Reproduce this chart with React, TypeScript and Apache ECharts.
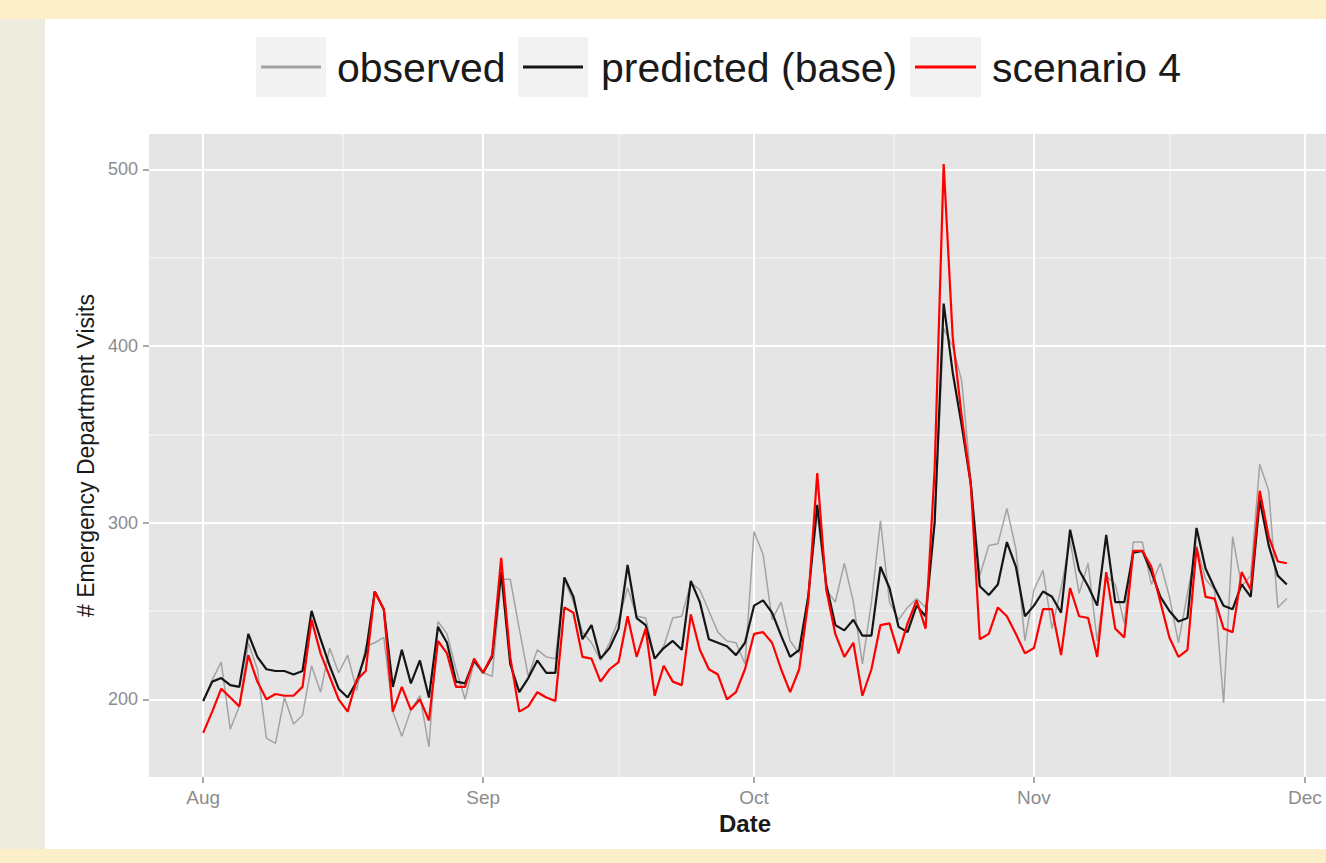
import React, { useEffect, useRef } from 'react';
import * as echarts from 'echarts';

// Day index 0 = Aug 1 (daily data through Nov 29)
const monthLabels = ['Aug', 'Sep', 'Oct', 'Nov', 'Dec'];
const monthStartDays = [0, 31, 61, 92, 122];
const midMonthDays = [15.5, 46, 76.5, 107];
const yTickValues = [200, 300, 400, 500];
const yMinorValues = [250, 350, 450];
const seriesNames = ['observed', 'predicted (base)', 'scenario 4'];

const observed = [
  199, 211, 221, 183, 196, 232, 217, 178, 175, 201,
  186, 191, 219, 204, 229, 215, 225, 205, 230, 232,
  235, 193, 179, 194, 202, 173, 244, 237, 217, 200,
  221, 215, 213, 268, 268, 240, 213, 228, 224, 223,
  268, 255, 238, 232, 222, 232, 245, 263, 247, 246,
  223, 230, 246, 247, 266, 262, 250, 238, 233, 232,
  220, 295, 282, 245, 255, 233, 226, 260, 305, 262,
  255, 277, 255, 220, 255, 301, 255, 245, 252, 257,
  252, 300, 410, 400, 380, 325, 270, 287, 288, 308,
  285, 233, 262, 273, 240, 263, 290, 260, 277, 233,
  270, 265, 243, 289, 289, 265, 277, 258, 232, 260,
  287, 268, 262, 198, 292, 264, 270, 333, 318, 252,
  257,
];

const predicted = [
  199, 210, 212, 208, 207, 237, 224, 217, 216, 216,
  214, 216, 250, 234, 219, 206, 201, 210, 226, 261,
  251, 207, 228, 209, 222, 201, 241, 232, 210, 209,
  222, 215, 224, 272, 220, 204, 212, 222, 215, 215,
  269, 258, 234, 242, 223, 229, 240, 276, 246, 242,
  223, 229, 233, 228, 267, 255, 234, 232, 230, 225,
  232, 253, 256, 249, 236, 224, 228, 258, 310, 265,
  242, 239, 245, 236, 236, 275, 263, 241, 238, 253,
  247, 300, 424, 385, 355, 322, 264, 259, 265, 289,
  275, 247, 253, 261, 258, 249, 296, 273, 264, 253,
  293, 255, 255, 283, 284, 272, 258, 250, 244, 246,
  297, 274, 263, 253, 251, 265, 258, 313, 287, 270,
  265,
];

const scenario4 = [
  181, 193, 206, 201, 196, 225, 210, 200, 203, 202,
  202, 207, 245, 226, 213, 200, 193, 211, 216, 261,
  251, 193, 207, 194, 200, 188, 233, 226, 207, 207,
  223, 215, 225, 280, 224, 193, 196, 204, 201, 199,
  252, 249, 224, 223, 210, 217, 221, 247, 224, 240,
  202, 219, 210, 208, 248, 228, 217, 214, 200, 204,
  217, 237, 238, 232, 217, 204, 217, 255, 328, 262,
  237, 224, 232, 202, 217, 242, 243, 226, 243, 256,
  240, 330, 503, 405, 360, 322, 234, 237, 252, 247,
  237, 226, 229, 251, 251, 225, 263, 247, 246, 224,
  272, 240, 235, 284, 284, 275, 255, 235, 224, 228,
  286, 258, 257, 240, 238, 272, 262, 318, 292, 278,
  277,
];

const FONT = '"Liberation Sans", Arial, Helvetica, sans-serif';
const COLORS = ['#a3a3a3', '#151515', '#ff0000'];

const toPairs = (arr: number[]) => arr.map((v, i) => [i, v]);

function buildOption(): any {
  const seriesData = [observed, predicted, scenario4];
  const widths = [1.5, 2.2, 2.2];
  const legendBoxes = [
    { x: 256, w: 70, tx: 337 },
    { x: 518, w: 70, tx: 601 },
    { x: 910, w: 71, tx: 992 },
  ];
  const graphic: any[] = [];
  legendBoxes.forEach((b, i) => {
    graphic.push({
      type: 'rect',
      shape: { x: b.x, y: 37, width: b.w, height: 60 },
      style: { fill: '#f2f2f2' },
      silent: true,
    });
    graphic.push({
      type: 'line',
      shape: { x1: b.x + 5, y1: 67, x2: b.x + b.w - 5, y2: 67 },
      style: { stroke: COLORS[i], lineWidth: 3 },
      silent: true,
    });
    graphic.push({
      type: 'text',
      x: b.tx,
      y: 68,
      style: {
        text: seriesNames[i],
        fontSize: 41,
        fontFamily: FONT,
        fill: '#1a1a1a',
        align: 'left',
        verticalAlign: 'middle',
      },
      silent: true,
    });
  });

  const tickStyle = { color: '#8c8c8c', width: 1.5 };

  return {
    animation: false,
    grid: {
      left: 149,
      top: 134,
      width: 1192,
      height: 643,
      show: true,
      backgroundColor: '#e5e5e5',
      borderWidth: 0,
      containLabel: false,
      outerBoundsMode: 'none',
    },
    xAxis: [
      {
        type: 'value',
        min: -6,
        max: 126,
        position: 'bottom',
        axisLine: { show: false, onZero: false },
        axisTick: {
          show: true,
          customValues: monthStartDays,
          length: 6,
          lineStyle: tickStyle,
        },
        axisLabel: {
          customValues: monthStartDays,
          formatter: (v: number) => {
            const idx = monthStartDays.indexOf(Math.round(v));
            return idx >= 0 ? monthLabels[idx] : '';
          },
          color: '#8c8c8c',
          fontSize: 19,
          fontFamily: FONT,
          margin: 11,
        },
        splitLine: { show: true, lineStyle: { color: '#ffffff', width: 2 } },
        name: 'Date',
        nameLocation: 'middle',
        nameGap: 29,
        nameTextStyle: { fontSize: 24, fontWeight: 'bold', color: '#1a1a1a', fontFamily: FONT },
        z: 1,
      },
      {
        type: 'value',
        min: -6,
        max: 126,
        position: 'bottom',
        axisLine: { show: false, onZero: false },
        axisTick: { show: false, customValues: midMonthDays },
        axisLabel: { show: false, customValues: midMonthDays },
        splitLine: { show: true, lineStyle: { color: '#f2f2f2', width: 1.5 } },
        z: 0,
      },
    ],
    yAxis: [
      {
        type: 'value',
        min: 156,
        max: 520,
        position: 'left',
        axisLine: { show: false, onZero: false },
        axisTick: {
          show: true,
          customValues: yTickValues,
          length: 6,
          lineStyle: tickStyle,
        },
        axisLabel: {
          customValues: yTickValues,
          color: '#8c8c8c',
          fontSize: 18,
          fontFamily: FONT,
          margin: 11,
        },
        splitLine: { show: true, lineStyle: { color: '#ffffff', width: 2 } },
        name: '# Emergency Department Visits',
        nameLocation: 'middle',
        nameGap: 49,
        nameTextStyle: { fontSize: 23, color: '#1a1a1a', fontFamily: FONT },
        z: 1,
      },
      {
        type: 'value',
        min: 156,
        max: 520,
        position: 'left',
        axisLine: { show: false, onZero: false },
        axisTick: { show: false, customValues: yMinorValues },
        axisLabel: { show: false, customValues: yMinorValues },
        splitLine: { show: true, lineStyle: { color: '#f2f2f2', width: 1.5 } },
        z: 0,
      },
    ],
    series: seriesData.map((arr, i) => ({
      name: seriesNames[i],
      type: 'line',
      xAxisIndex: 0,
      yAxisIndex: 0,
      data: toPairs(arr),
      symbol: 'none',
      showSymbol: false,
      smooth: false,
      clip: true,
      lineStyle: { color: COLORS[i], width: widths[i] },
      itemStyle: { color: COLORS[i] },
      emphasis: { disabled: true },
      z: 2 + i,
    })),
    graphic,
  };
}

export default function App() {
  const ref = useRef<HTMLDivElement>(null);
  useEffect(() => {
    if (!ref.current) return;
    const chart = echarts.init(ref.current, null, { renderer: 'svg' });
    chart.setOption(buildOption());
    return () => chart.dispose();
  }, []);
  return (
    <div
      style={{
        position: 'fixed',
        left: 0,
        top: 0,
        width: 1326,
        height: 863,
        overflow: 'hidden',
        background: '#fdefc9',
      }}
    >
      <div style={{ position: 'absolute', left: 0, top: 19, width: 45, height: 830, background: '#eeebdf' }} />
      <div style={{ position: 'absolute', left: 45, top: 19, width: 1281, height: 830, background: '#ffffff' }} />
      <div ref={ref} style={{ position: 'absolute', left: 0, top: 0, width: 1400, height: 863 }} />
    </div>
  );
}
